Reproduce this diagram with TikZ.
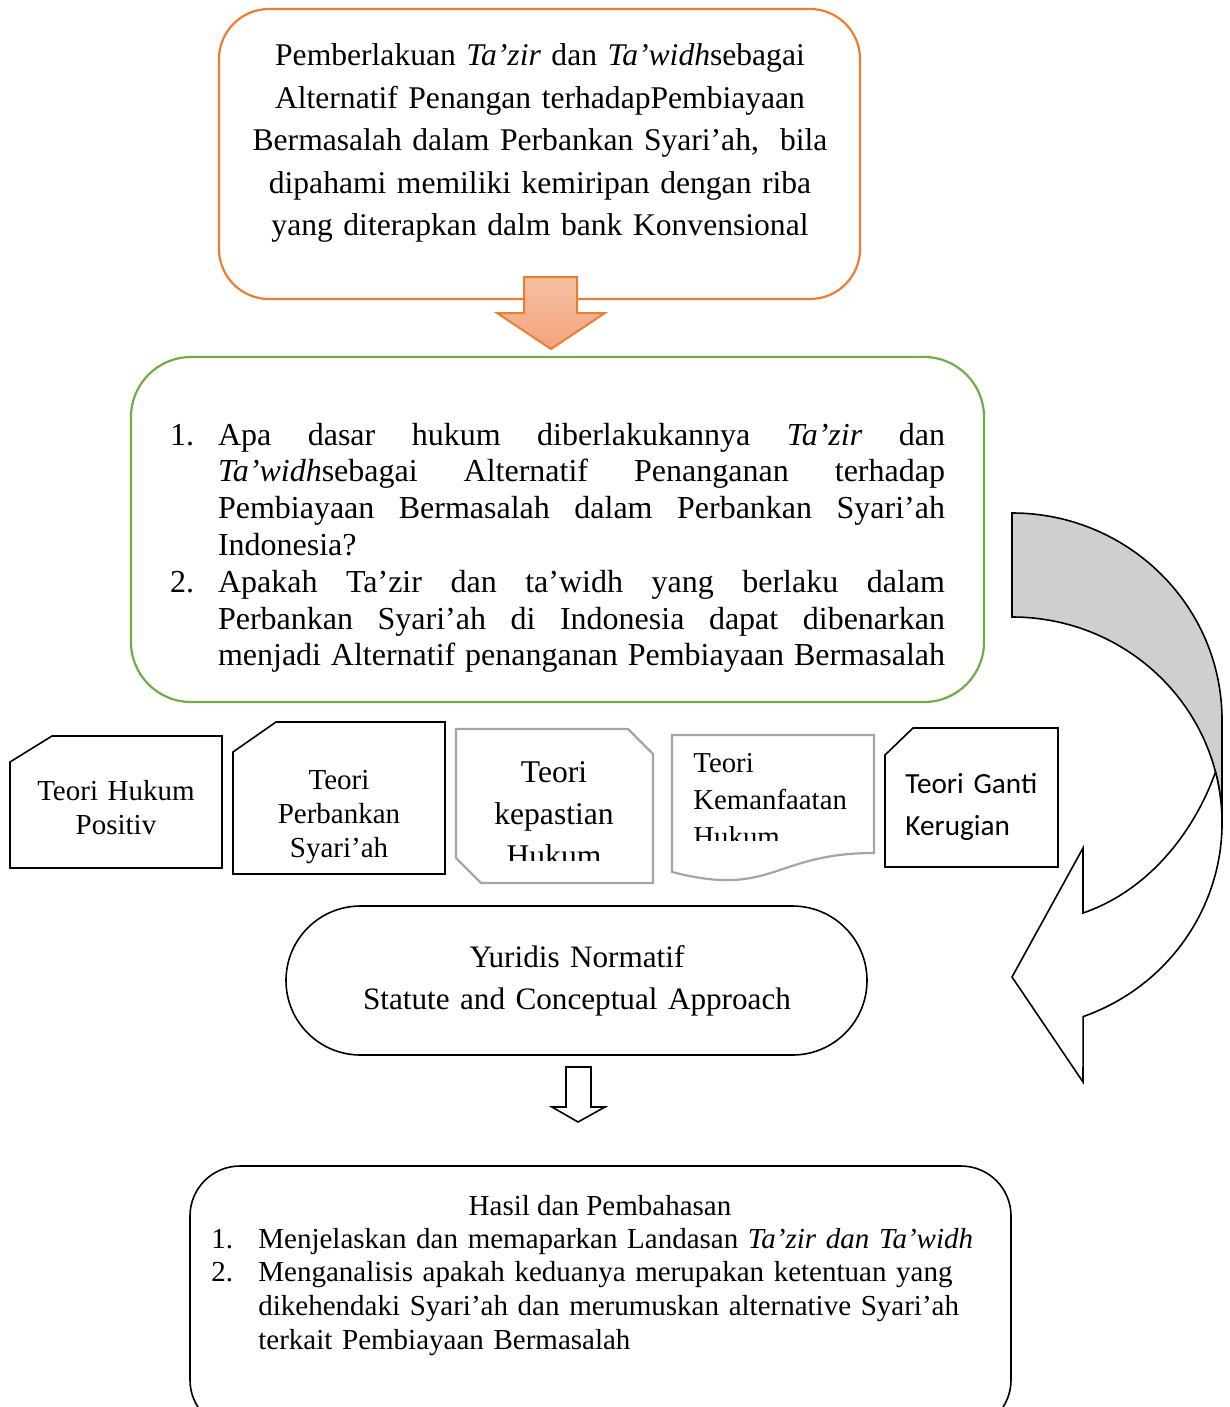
\documentclass[tikz,border=0pt]{standalone}
\usepackage{fontspec}
\setmainfont{Liberation Serif}
\newfontfamily\calibrifont{Carlito}
\definecolor{orng}{HTML}{ED7D31}
\definecolor{grn}{HTML}{70AD47}
\definecolor{gborder}{HTML}{A5A5A5}
\definecolor{arrowgray}{HTML}{CFCFCF}
\definecolor{salmontop}{HTML}{F6C0A2}
\definecolor{salmonbot}{HTML}{F4A37E}
\begin{document}
\begin{tikzpicture}[x=0.5pt,y=-0.5pt,
  txt/.style={inner sep=0pt,anchor=base},
  blackbox/.style={draw=black,line width=0.8pt},
  graybox/.style={draw=gborder,line width=1.1pt},
  blockarrow/.style={draw=black,line width=0.8pt,fill=white}]
\useasboundingbox (0,0) rectangle (1230,1407);

% top orange box
\draw[orng,line width=1.1pt,rounded corners=25pt] (219,9) rectangle (860,299);
\node[txt,text width=400pt,align=center,font=\fontsize{15.8}{21.25}\selectfont] (toptext) at (540,66)
 {Pemberlakuan \textit{Ta’zir} dan \textit{Ta’widh}sebagai\\
  Alternatif Penangan terhadapPembiayaan\\
  Bermasalah dalam Perbankan Syari’ah,~ bila\\
  dipahami memiliki kemiripan dengan riba\\
  yang diterapkan dalm bank Konvensional};

% orange arrow
\draw[orng,line width=1pt,top color=salmontop,bottom color=salmonbot]
  (524,277) -- (577,277) -- (577,313) -- (605,313) -- (551,349) -- (497,313) -- (524,313) -- cycle;

% green box
\draw[grn,line width=1.1pt,rounded corners=30pt] (131,357) rectangle (984,702);
\node[txt,text width=387.5pt,align=justify,font=\fontsize{16}{18.4}\selectfont] (questions) at (557.5,445)
 {\tolerance=10000\hyphenpenalty=10000\relax
  \hangindent=24pt\hangafter=1 \makebox[24pt][l]{1.}Apa dasar hukum diberlakukannya \textit{Ta’zir} dan\linebreak
  \textit{Ta’widh}sebagai Alternatif Penanganan terhadap\linebreak
  Pembiayaan Bermasalah dalam Perbankan Syari’ah\linebreak
  Indonesia?\par
  \hangindent=24pt\hangafter=1 \makebox[24pt][l]{2.}Apakah Ta’zir dan ta’widh yang berlaku dalam\linebreak
  Perbankan Syari’ah di Indonesia dapat dibenarkan\linebreak
  menjadi Alternatif penanganan Pembiayaan Bermasalah\parfillskip=0pt\par};

% theory boxes
\draw[blackbox] (10,762) -- (52,736) -- (222,736) -- (222,868) -- (10,868) -- cycle;
\node[txt,text width=110pt,align=center,font=\fontsize{14.5}{17}\selectfont] (t1) at (116,800)
 {Teori Hukum\\Positiv};

\draw[blackbox] (233,752) -- (276,722) -- (445,722) -- (445,874) -- (233,874) -- cycle;
\node[txt,text width=110pt,align=center,font=\fontsize{14.5}{17}\selectfont] (t2) at (339,789)
 {Teori\\Perbankan\\Syari’ah};

\draw[graybox] (456,729) -- (628,729) -- (653,754) -- (653,883) -- (481,883) -- (456,858) -- cycle;
\begin{scope}
\clip (456,729) rectangle (653,860);
\node[txt,text width=100pt,align=center,font=\fontsize{15.8}{21}\selectfont] (t3) at (554,782)
 {Teori\\kepastian\\Hukum};
\end{scope}

\draw[graybox] (672,735) -- (874,735) -- (874,853) .. controls (773,853) and (773,898) .. (672,872) -- cycle;
\begin{scope}
\clip (672,735) rectangle (874,840);
\node[txt,anchor=base west,text width=95pt,align=left,font=\fontsize{14.4}{18.5}\selectfont] (t4) at (693,772)
 {Teori\\Kemanfaatan\\Hukum};
\end{scope}

\draw[blackbox] (885,755) -- (913,728) -- (1058,728) -- (1058,867) -- (885,867) -- cycle;
\node[txt,anchor=base west,text width=80pt,align=left,font=\calibrifont\fontsize{14.6}{21}\selectfont] (t5) at (905,793)
 {Teori Ganti\\Kerugian};

% oval
\draw[blackbox,rounded corners=37.25pt] (286,906) rectangle (867,1055);
\node[txt,text width=280pt,align=center,font=\fontsize{15.6}{21}\selectfont] (method) at (577,967)
 {Yuridis Normatif\\Statute and Conceptual Approach};

% small arrow
\draw[blockarrow] (566,1067) -- (591,1067) -- (591,1107) -- (605,1107) -- (578,1122) -- (552,1107) -- (566,1107) -- cycle;

% bottom box
\draw[blackbox,rounded corners=25pt] (190,1166) rectangle (1011,1430);
\node[txt,font=\fontsize{14.5}{16.9}\selectfont] (hasil) at (600,1215) {Hasil dan Pembahasan};
\node[txt,anchor=base west,text width=400pt,align=left,font=\fontsize{14.5}{16.9}\selectfont] (hasillist) at (211,1248)
 {\makebox[23.5pt][l]{1.}Menjelaskan dan memaparkan Landasan \textit{Ta’zir dan Ta’widh}\\
  \makebox[23.5pt][l]{2.}Menganalisis apakah keduanya merupakan ketentuan yang\\
  \hspace*{23.5pt}dikehendaki Syari’ah dan merumuskan alternative Syari’ah\\
  \hspace*{23.5pt}terkait Pembiayaan Bermasalah};

% curved arrow
\draw[line width=0.8pt,fill=arrowgray] (1012,513)
  arc[start angle=90,end angle=0,x radius=105pt,y radius=103.5pt] -- (1222,823)
  arc[start angle=0,end angle=90,x radius=105pt,y radius=103pt] -- cycle;
\coordinate (cj) at (1215.5,771.9);
\draw[line width=0.8pt,fill=white,line join=miter] (cj)
  arc[start angle=14.3,end angle=-70.2,x radius=105pt,y radius=103pt]
  -- (1083,1082) -- (1012,977) -- (1083,848) -- (1083,913)
  .. controls (1150,890) and (1195,830) .. (cj) -- cycle;
\end{tikzpicture}
\end{document}
